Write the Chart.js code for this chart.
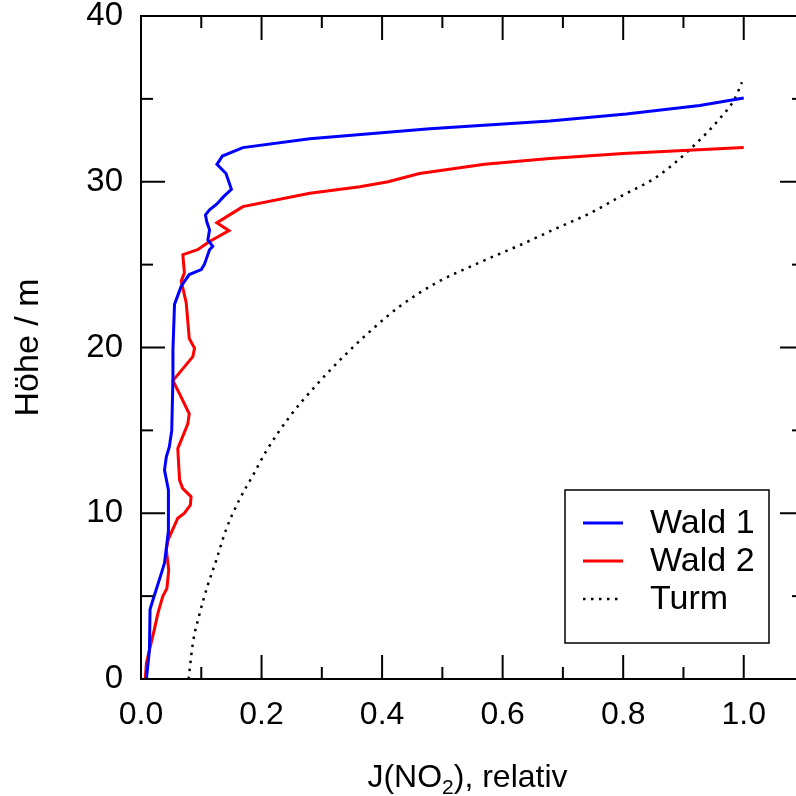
<!DOCTYPE html>
<html>
<head>
<meta charset="utf-8">
<script src="https://cdn.jsdelivr.net/npm/chart.js@4.4.1/dist/chart.umd.min.js"></script>
<style>
  html, body { margin: 0; padding: 0; overflow: hidden; background: #fff; }
  #wrap { width: 812px; height: 796px; }
  canvas { display: block; }
</style>
</head>
<body>
<div id="wrap"><canvas id="c" width="812" height="796"></canvas></div>
<script>
// ---- Data ----
const wald1X = [0.009, 0.014, 0.015, 0.020, 0.034, 0.039, 0.045, 0.046, 0.045, 0.039, 0.042, 0.047, 0.051, 0.053, 0.053, 0.0556, 0.0667, 0.080, 0.100, 0.105, 0.1137, 0.119, 0.111, 0.1137, 0.109, 0.107, 0.1137, 0.126, 0.137, 0.150, 0.141, 0.126, 0.135, 0.169, 0.28, 0.479, 0.678, 0.805, 0.927, 1.0];
const wald1H = [0, 1.75, 4.2, 4.8, 6.4, 7.0, 8.8, 9.8, 11.4, 12.6, 13.4, 14.0, 15.0, 18.2, 19.85, 22.6, 23.7, 24.4, 24.7, 25.0, 25.9, 26.1, 26.5, 27.1, 27.6, 28.0, 28.3, 28.66, 29.1, 29.54, 30.5, 31.05, 31.55, 32.06, 32.6, 33.2, 33.67, 34.09, 34.6, 35.05];

const wald2X = [0.007, 0.009, 0.014, 0.022, 0.028, 0.036, 0.043, 0.046, 0.042, 0.045, 0.061, 0.072, 0.082, 0.083, 0.069, 0.064, 0.061, 0.0777, 0.080, 0.064, 0.053, 0.086, 0.0888, 0.080, 0.0777, 0.075, 0.0667, 0.072, 0.0694, 0.094, 0.1137, 0.146, 0.126, 0.147, 0.169, 0.28, 0.363, 0.41, 0.462, 0.57, 0.678, 0.80, 1.0];
const wald2H = [0, 0.95, 1.75, 2.96, 3.96, 4.97, 5.47, 6.58, 7.8, 8.4, 9.7, 10.0, 10.5, 11.0, 11.5, 12.0, 13.9, 15.4, 16.0, 17.2, 18.0, 19.45, 19.95, 20.55, 21.56, 22.7, 24.0, 24.5, 25.6, 25.9, 26.4, 27.05, 27.53, 28.0, 28.5, 29.3, 29.7, 30.0, 30.5, 31.05, 31.4, 31.7, 32.06];

const turmX = [0.079, 0.086, 0.097, 0.110, 0.125, 0.141, 0.163, 0.186, 0.207, 0.246, 0.291, 0.34, 0.39, 0.43, 0.49, 0.56, 0.63, 0.69, 0.745, 0.795, 0.856, 0.891, 0.911, 0.931, 0.96, 0.985, 0.997];
const turmH = [0, 2.15, 3.9, 5.57, 7.18, 9.0, 10.8, 12.3, 13.7, 15.8, 17.74, 19.6, 21.3, 22.5, 23.9, 25.1, 26.2, 27.2, 28.1, 29.1, 30.3, 31.3, 31.96, 32.66, 33.8, 35.0, 36.0];

const seriesNames = ["Wald 1", "Wald 2", "Turm"];
const xMajorTicks = [0, 0.2, 0.4, 0.6, 0.8, 1.0];
const xMinorTicks = [0.1, 0.3, 0.5, 0.7, 0.9];
const yMajorTicks = [0, 10, 20, 30, 40];
const yMinorTicks = [5, 15, 25, 35];
const xTitleParts = ["J(NO", "2", "), relativ"];
const yTitle = "Höhe / m";

const toPts = (xs, hs) => xs.map((v, i) => ({ x: v, y: hs[i] }));

const FONT = "'Liberation Sans', Arial, Helvetica, sans-serif";
const FS = 32;
const FS_LEG = 34;

const framePlugin = {
  id: 'frame',
  afterDraw(chart) {
    const { ctx, chartArea: a, scales: { x, y } } = chart;
    ctx.save();
    ctx.strokeStyle = '#000';
    ctx.lineWidth = 2;
    ctx.lineCap = 'butt';
    const seg = (x1, y1, x2, y2) => { ctx.beginPath(); ctx.moveTo(x1, y1); ctx.lineTo(x2, y2); ctx.stroke(); };
    ctx.strokeRect(a.left, a.top, a.right - a.left, a.bottom - a.top);
    xMajorTicks.forEach(v => { const p = x.getPixelForValue(v); seg(p, a.bottom, p, a.bottom - 24); seg(p, a.top, p, a.top + 24); });
    xMinorTicks.forEach(v => { const p = x.getPixelForValue(v); seg(p, a.bottom, p, a.bottom - 12); seg(p, a.top, p, a.top + 12); });
    yMajorTicks.forEach(v => { const p = y.getPixelForValue(v); seg(a.left, p, a.left + 24, p); seg(a.right, p, a.right - 24, p); });
    yMinorTicks.forEach(v => { const p = y.getPixelForValue(v); seg(a.left, p, a.left + 12, p); seg(a.right, p, a.right - 12, p); });

    // legend
    ctx.fillStyle = '#fff';
    ctx.fillRect(565, 490, 204, 153);
    ctx.lineWidth = 1.5;
    ctx.strokeRect(565, 490, 204, 153);
    const ds = chart.data.datasets;
    const rows = [523, 561, 599];
    ds.forEach((d, i) => {
      ctx.save();
      ctx.strokeStyle = d.borderColor;
      ctx.lineWidth = d.borderWidth;
      ctx.setLineDash(d.borderDash || []);
      seg(583, rows[i], 623, rows[i]);
      ctx.restore();
      ctx.fillStyle = '#000';
      ctx.font = FS_LEG + 'px ' + FONT;
      ctx.textBaseline = 'middle';
      ctx.textAlign = 'left';
      ctx.fillText(d.label, 650, rows[i] + 1);
    });

    // x title with subscript
    ctx.fillStyle = '#000';
    ctx.textBaseline = 'alphabetic';
    ctx.textAlign = 'left';
    const big = FS + 'px ' + FONT, small = Math.round(FS * 0.65) + 'px ' + FONT;
    ctx.font = big; const w0 = ctx.measureText(xTitleParts[0]).width, w2 = ctx.measureText(xTitleParts[2]).width;
    ctx.font = small; const w1 = ctx.measureText(xTitleParts[1]).width;
    const cx = (a.left + a.right) / 2 - 5;
    let sx = cx - (w0 + w1 + w2) / 2;
    const base = 787;
    ctx.font = big; ctx.fillText(xTitleParts[0], sx, base); sx += w0;
    ctx.font = small; ctx.fillText(xTitleParts[1], sx, base + 7); sx += w1;
    ctx.font = big; ctx.fillText(xTitleParts[2], sx, base);

    // y title
    ctx.save();
    ctx.translate(38, (a.top + a.bottom) / 2);
    ctx.rotate(-Math.PI / 2);
    ctx.textAlign = 'center';
    ctx.font = FS_LEG + 'px ' + FONT;
    ctx.fillText(yTitle, 0, 0);
    ctx.restore();

    ctx.restore();
  }
};

const zeroPad = (s) => { s.paddingTop = 0; s.paddingBottom = 0; s.paddingLeft = 0; s.paddingRight = 0; };

new Chart(document.getElementById('c'), {
  type: 'scatter',
  data: {
    datasets: [
      { label: seriesNames[0], data: toPts(wald1X, wald1H), showLine: true, borderColor: '#0000ff', borderWidth: 3, pointRadius: 0, tension: 0, fill: false },
      { label: seriesNames[1], data: toPts(wald2X, wald2H), showLine: true, borderColor: '#ff0000', borderWidth: 3, pointRadius: 0, tension: 0, fill: false },
      { label: seriesNames[2], data: toPts(turmX, turmH), showLine: true, borderColor: '#000000', borderWidth: 2.5, borderDash: [2.5, 5.5], pointRadius: 0, tension: 0.3, cubicInterpolationMode: 'monotone', fill: false }
    ]
  },
  options: {
    responsive: false,
    animation: false,
    devicePixelRatio: 1,
    layout: { padding: { top: 16, right: 8, left: 0, bottom: 0 } },
    plugins: { legend: { display: false }, tooltip: { enabled: false } },
    scales: {
      x: {
        type: 'linear', min: 0, max: 1.1,
        grid: { display: false, drawTicks: false },
        border: { display: false },
        ticks: {
          stepSize: 0.1, autoSkip: false, maxRotation: 0, padding: 17,
          color: '#000', font: { family: FONT, size: FS },
          callback: (v) => { const k = Math.round(v * 10); return (k % 2 === 0 && k <= 10) ? (k / 10).toFixed(1) : ''; }
        },
        afterFit(s) { s.height = 117; zeroPad(s); }
      },
      y: {
        type: 'linear', min: 0, max: 40,
        grid: { display: false, drawTicks: false },
        border: { display: false },
        ticks: { stepSize: 10, padding: 18, color: '#000', font: { family: FONT, size: 33 } },
        afterFit(s) { s.width = 141; zeroPad(s); }
      }
    }
  },
  plugins: [framePlugin]
});
</script>
</body>
</html>
